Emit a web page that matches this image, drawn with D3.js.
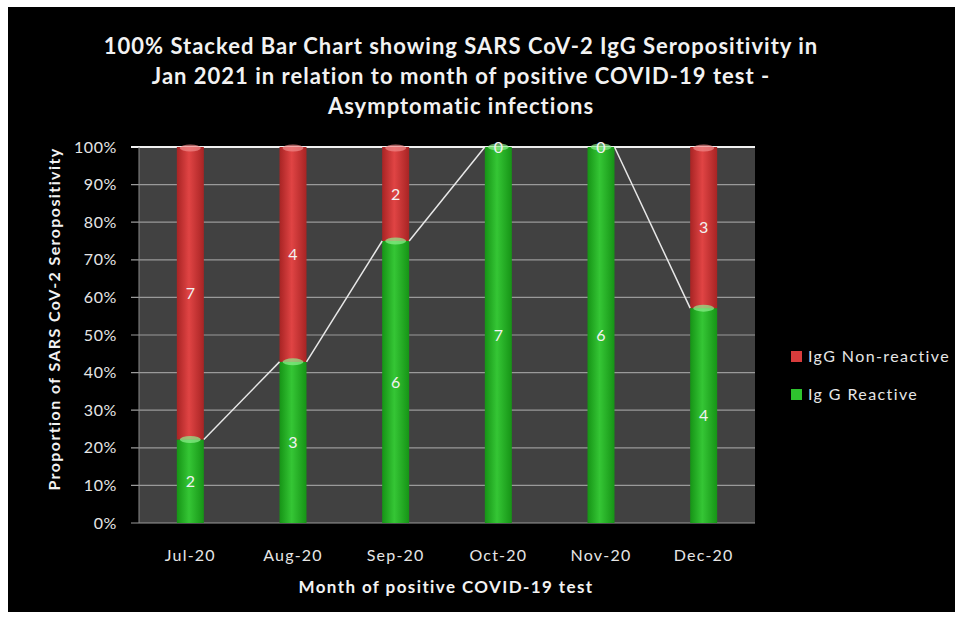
<!DOCTYPE html>
<html>
<head>
<meta charset="utf-8">
<script src="https://cdn.jsdelivr.net/npm/d3@7"></script>
<style>
  body { margin: 0; background: #fff; }
  svg { display: block; }
  text { font-family: Lato, "Open Sans", sans-serif; }
</style>
</head>
<body>
<svg id="chart"></svg>
<script>
// chart data
const months = ['Jul-20', 'Aug-20', 'Sep-20', 'Oct-20', 'Nov-20', 'Dec-20']
const reactive = [2, 3, 6, 7, 6, 4]
const nonReactive = [7, 4, 2, 0, 0, 3]
const yTicks = [0, 0.1, 0.2, 0.3, 0.4, 0.5, 0.6, 0.7, 0.8, 0.9, 1]
const titleLines = [
    '100% Stacked Bar Chart showing SARS CoV-2 IgG Seropositivity in',
    'Jan 2021 in relation to month of positive COVID-19 test -',
    'Asymptomatic infections'
]
const legendItems = [
    { text: 'IgG Non-reactive', key: 'red' },
    { text: 'Ig G Reactive', key: 'green' }
]

const width = 964
const height = 620
const plot = { left: 139, right: 755, top: 147, bottom: 523 }

const svg = d3.select('#chart')
    .attr('width', width)
    .attr('height', height)

// black frame
svg.append('rect')
    .attr('x', 8).attr('y', 7)
    .attr('width', 947).attr('height', 605)
    .attr('fill', '#000')

const defs = svg.append('defs')
function cylinder(id, edge, mid) {
    const g = defs.append('linearGradient').attr('id', id)
        .attr('x1', '0%').attr('x2', '100%').attr('y1', '0%').attr('y2', '0%')
    g.append('stop').attr('offset', '0%').attr('stop-color', edge)
    g.append('stop').attr('offset', '45%').attr('stop-color', mid)
    g.append('stop').attr('offset', '100%').attr('stop-color', edge)
}
cylinder('red', '#a82424', '#e04444')
cylinder('green', '#169416', '#35c635')

// plot background
svg.append('rect')
    .attr('x', plot.left).attr('y', plot.top)
    .attr('width', plot.right - plot.left)
    .attr('height', plot.bottom - plot.top)
    .attr('fill', '#414141')

const x = d3.scaleBand()
    .domain(months)
    .range([plot.left, plot.right])
    .paddingInner(0.737)
    .paddingOuter(0.3685)

const y = d3.scaleLinear()
    .domain([0, 1])
    .range([plot.bottom, plot.top])

// gridlines
svg.append('g')
    .selectAll('line')
    .data(yTicks)
    .enter()
    .append('line')
    .attr('x1', plot.left - 8)
    .attr('x2', plot.right)
    .attr('y1', d => y(d))
    .attr('y2', d => y(d))
    .attr('stroke', d => d === 1 ? '#f0f0f0' : '#9a9a9a')
    .attr('stroke-width', d => d === 1 ? 2 : 1.2)

// y axis line
svg.append('line')
    .attr('x1', plot.left).attr('x2', plot.left)
    .attr('y1', plot.top).attr('y2', plot.bottom)
    .attr('stroke', '#8a8a8a')

// y tick labels
const yAxis = d3.axisLeft(y)
    .tickValues(yTicks)
    .tickFormat(d3.format('.0%'))
    .tickSize(0)
    .tickPadding(22)
const yg = svg.append('g')
    .attr('transform', 'translate(' + plot.left + ',0)')
    .call(yAxis)
yg.select('.domain').remove()
yg.selectAll('text')
    .attr('fill', '#e6e6e6')
    .style('font-size', '16px')
    .style('letter-spacing', '0.6px')

// x tick labels
const xAxis = d3.axisBottom(x).tickSize(0).tickPadding(27)
const xg = svg.append('g')
    .attr('transform', 'translate(0,' + plot.bottom + ')')
    .call(xAxis)
xg.select('.domain').remove()
xg.selectAll('text')
    .attr('fill', '#e6e6e6')
    .style('font-size', '16px')
    .style('letter-spacing', '1.2px')

// stacked shares
const rows = months.map((m, i) => {
    const total = reactive[i] + nonReactive[i]
    return { month: m, r: reactive[i], n: nonReactive[i], pr: reactive[i] / total }
})

const bars = svg.append('g')
bars.selectAll('.green')
    .data(rows)
    .enter()
    .append('rect')
    .attr('class', 'green')
    .attr('x', d => x(d.month))
    .attr('width', x.bandwidth())
    .attr('y', d => y(d.pr))
    .attr('height', d => y(0) - y(d.pr))
    .attr('fill', 'url(#green)')

bars.selectAll('.red')
    .data(rows)
    .enter()
    .append('rect')
    .attr('class', 'red')
    .attr('x', d => x(d.month))
    .attr('width', x.bandwidth())
    .attr('y', y(1))
    .attr('height', d => y(d.pr) - y(1))
    .attr('fill', 'url(#red)')

// cylinder top highlights
bars.selectAll('.cap')
    .data(rows)
    .enter()
    .append('ellipse')
    .attr('cx', d => x(d.month) + x.bandwidth() / 2)
    .attr('cy', d => y(d.pr))
    .attr('rx', x.bandwidth() / 2 - 3)
    .attr('ry', 3.5)
    .attr('fill', '#8df08d')
    .attr('opacity', 0.7)
bars.selectAll('.capTop')
    .data(rows.filter(d => d.n > 0))
    .enter()
    .append('ellipse')
    .attr('cx', d => x(d.month) + x.bandwidth() / 2)
    .attr('cy', y(1) + 1)
    .attr('rx', x.bandwidth() / 2 - 3)
    .attr('ry', 3.5)
    .attr('fill', '#f08a8a')
    .attr('opacity', 0.7)

// series lines between bars
const seg = []
for (let i = 0; i < rows.length - 1; i++) {
    seg.push([rows[i], rows[i + 1]])
}
svg.append('g')
    .selectAll('line')
    .data(seg)
    .enter()
    .append('line')
    .attr('x1', d => x(d[0].month) + x.bandwidth())
    .attr('y1', d => y(d[0].pr))
    .attr('x2', d => x(d[1].month))
    .attr('y2', d => y(d[1].pr))
    .attr('stroke', '#e8e8e8')
    .attr('stroke-width', 1.5)

// data labels
const labels = svg.append('g')
    .style('font-size', '16px')
    .attr('fill', '#f2f2f2')
    .attr('text-anchor', 'middle')
labels.selectAll('.lr')
    .data(rows)
    .enter()
    .append('text')
    .attr('x', d => x(d.month) + x.bandwidth() / 2)
    .attr('y', d => y(d.pr / 2))
    .attr('dy', '0.35em')
    .text(d => d.r)
labels.selectAll('.ln')
    .data(rows)
    .enter()
    .append('text')
    .attr('x', d => x(d.month) + x.bandwidth() / 2)
    .attr('y', d => y((d.pr + 1) / 2))
    .attr('dy', '0.35em')
    .text(d => d.n)

// title
svg.append('g')
    .selectAll('text')
    .data(titleLines)
    .enter()
    .append('text')
    .attr('x', 461)
    .attr('y', (d, i) => 54 + i * 30)
    .attr('text-anchor', 'middle')
    .attr('fill', '#f2f2f2')
    .style('font-size', '22px')
    .style('font-weight', 'bold')
    .style('letter-spacing', '1px')
    .text(d => d)

// axis titles
svg.append('text')
    .attr('transform', 'translate(60,319) rotate(-90)')
    .attr('text-anchor', 'middle')
    .attr('fill', '#f2f2f2')
    .style('font-size', '16px')
    .style('font-weight', 'bold')
    .style('letter-spacing', '1.4px')
    .text('Proportion of SARS CoV-2 Seropositivity')

svg.append('text')
    .attr('x', 446)
    .attr('y', 593)
    .attr('text-anchor', 'middle')
    .attr('fill', '#f2f2f2')
    .style('font-size', '17px')
    .style('font-weight', 'bold')
    .style('letter-spacing', '1.4px')
    .text('Month of positive COVID-19 test')

// legend
const legend = svg.append('g')
    .selectAll('g')
    .data(legendItems)
    .enter()
    .append('g')
    .attr('transform', (d, i) => 'translate(791,' + (356 + i * 38) + ')')
legend.append('rect')
    .attr('x', 0).attr('y', -5)
    .attr('width', 11).attr('height', 11)
    .attr('fill', d => d.key === 'red' ? '#d83c3c' : '#2ec42e')
legend.append('text')
    .attr('x', 17)
    .attr('dy', '0.35em')
    .attr('fill', '#e6e6e6')
    .style('font-size', '16px')
    .style('letter-spacing', '1.4px')
    .text(d => d.text)
</script>
</body>
</html>
